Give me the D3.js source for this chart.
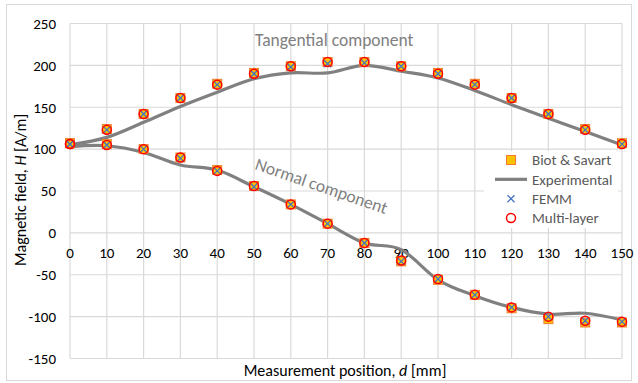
<!DOCTYPE html>
<html>
<head>
<meta charset="utf-8">
<script src="https://cdn.jsdelivr.net/npm/d3@7"></script>
<style>
  body { margin: 0; background: #fff; }
  svg text { font-family: Carlito, Lato, "Open Sans", sans-serif; }
</style>
</head>
<body>
<svg id="chart" width="638" height="383"></svg>
<script>
// measurement positions d [mm]
const positions = [0, 10, 20, 30, 40, 50, 60, 70, 80, 90, 100, 110, 120, 130, 140, 150];

// tangential component
const tanBiot = [107, 124, 142, 161, 178, 191, 199, 204, 204, 199, 191, 178, 161, 142, 124, 107];
const tanFemm = [106, 123, 142, 161, 177, 190, 198, 202, 203, 199, 190, 177, 161, 142, 123, 106];
const tanMulti = [106, 123, 142, 161, 177, 190, 199, 204, 204, 199, 190, 177, 161, 142, 123, 106];
const tanExp = [105, 114, 132, 151, 168, 184, 191, 191, 200, 193, 185, 170, 153, 137, 121, 105];

// normal component
const norBiot = [107, 106, 100, 90, 75, 56, 34, 11, -12, -34, -56, -74, -90, -103, -107, -107];
const norFemm = [106, 105, 100, 89, 74, 55, 34, 11, -12, -34, -55, -74, -89, -100, -105, -106];
const norMulti = [106, 105, 100, 90, 74, 56, 34, 11, -12, -33, -55, -74, -89, -100, -105, -106];
const norExp = [103, 104, 96, 81, 75, 55, 34, 11, -12, -20, -56, -75, -89, -97, -96, -104];

const xTicks = d3.range(0, 151, 10);
const yTicks = [-150, -100, -50, 0, 50, 100, 150, 200, 250];
const legendNames = ["Biot & Savart", "Experimental", "FEMM", "Multi-layer"];

const svg = d3.select("#chart");
const x = d3.scaleLinear().domain([0, 150]).range([70, 622]);
const y = d3.scaleLinear().domain([-150, 250]).range([358.5, 23.5]);

// outer chart border
svg.append("rect").attr("x", 6.5).attr("y", 4.5).attr("width", 625).attr("height", 376)
  .attr("fill", "#fff").attr("stroke", "#d9d9d9");

// gridlines
svg.append("g").selectAll("line").data(xTicks).enter().append("line")
  .attr("x1", d => x(d)).attr("x2", d => x(d))
  .attr("y1", y(250)).attr("y2", y(-150))
  .attr("stroke", "#d9d9d9").attr("stroke-width", 1.2);
svg.append("g").selectAll("line").data(yTicks).enter().append("line")
  .attr("x1", x(0)).attr("x2", x(150))
  .attr("y1", d => y(d)).attr("y2", d => y(d))
  .attr("stroke", "#d9d9d9").attr("stroke-width", 1.2);

// tick labels
svg.append("g").selectAll("text").data(yTicks).enter().append("text")
  .attr("x", 56).attr("y", d => y(d)).attr("dy", "0.35em")
  .attr("text-anchor", "end").attr("font-size", 15).attr("fill", "#000")
  .text(d => d);
svg.append("g").selectAll("text").data(xTicks).enter().append("text")
  .attr("x", d => x(d)).attr("y", y(0) + 20).attr("dy", "0.35em")
  .attr("text-anchor", "middle").attr("font-size", 15).attr("fill", "#000")
  .text(d => d);

// axis titles
const yTitle = svg.append("text").attr("transform", "translate(26,190) rotate(-90)")
  .attr("text-anchor", "middle").attr("font-size", 16).attr("fill", "#000");
yTitle.append("tspan").text("Magnetic field, ");
yTitle.append("tspan").attr("font-style", "italic").text("H");
yTitle.append("tspan").text(" [A/m]");

const xTitle = svg.append("text").attr("x", 345).attr("y", 376)
  .attr("text-anchor", "middle").attr("font-size", 16).attr("fill", "#000");
xTitle.append("tspan").text("Measurement position, ");
xTitle.append("tspan").attr("font-style", "italic").text("d");
xTitle.append("tspan").text(" [mm]");

// experimental curves (smoothed like Excel)
const line = d3.line().x((d, i) => x(positions[i])).y(d => y(d)).curve(d3.curveCardinal.tension(0));
[tanExp, norExp].forEach(s => {
  svg.append("path").datum(s).attr("d", line)
    .attr("fill", "none").attr("stroke", "#808080").attr("stroke-width", 3.2);
});

// markers
function squares(s) {
  svg.append("g").selectAll("rect").data(s).enter().append("rect")
    .attr("x", (d, i) => x(positions[i]) - 4.5).attr("y", d => y(d) - 4.5)
    .attr("width", 9).attr("height", 9)
    .attr("fill", "#ffc000").attr("stroke", "#ed7d31").attr("stroke-width", 1);
}
function crosses(s) {
  svg.append("g").selectAll("path").data(s).enter().append("path")
    .attr("d", (d, i) => {
      const cx = x(positions[i]), cy = y(d), r = 3.5;
      return `M${cx - r},${cy - r}L${cx + r},${cy + r}M${cx - r},${cy + r}L${cx + r},${cy - r}`;
    })
    .attr("stroke", "#4472c4").attr("stroke-width", 1.3).attr("fill", "none");
}
function circles(s) {
  svg.append("g").selectAll("circle").data(s).enter().append("circle")
    .attr("cx", (d, i) => x(positions[i])).attr("cy", d => y(d)).attr("r", 4.5)
    .attr("fill", "none").attr("stroke", "#ff0000").attr("stroke-width", 1.5);
}
squares(tanBiot); squares(norBiot);
crosses(tanFemm); crosses(norFemm);
circles(tanMulti); circles(norMulti);

// annotations
svg.append("text").attr("x", 255).attr("y", 46).attr("font-size", 17.5).attr("fill", "#808080")
  .text("Tangential component");
svg.append("text").attr("transform", "translate(254,169) rotate(19)")
  .attr("font-size", 17.5).attr("fill", "#808080")
  .text("Normal component");

// legend
const lg = svg.append("g");
lg.append("rect").attr("x", 484).attr("y", 151).attr("width", 134).attr("height", 77).attr("fill", "#fff");
const ly = d3.scalePoint().domain(legendNames).range([160, 218]);
const lx = 511;
lg.append("rect").attr("x", lx - 4.5).attr("y", ly(legendNames[0]) - 4.5).attr("width", 9).attr("height", 9)
  .attr("fill", "#ffc000").attr("stroke", "#ed7d31");
lg.append("line").attr("x1", 495).attr("x2", 527).attr("y1", ly(legendNames[1])).attr("y2", ly(legendNames[1]))
  .attr("stroke", "#808080").attr("stroke-width", 3.2);
lg.append("path").attr("d", `M${lx - 3.5},${ly(legendNames[2]) - 3.5}l7,7M${lx - 3.5},${ly(legendNames[2]) + 3.5}l7,-7`)
  .attr("stroke", "#4472c4").attr("stroke-width", 1.3);
lg.append("circle").attr("cx", lx).attr("cy", ly(legendNames[3])).attr("r", 4.5)
  .attr("fill", "none").attr("stroke", "#ff0000").attr("stroke-width", 1.5);
lg.selectAll("text").data(legendNames).enter().append("text")
  .attr("x", 532).attr("y", d => ly(d)).attr("dy", "0.35em")
  .attr("font-size", 15).attr("fill", "#595959")
  .text(d => d);
</script>
</body>
</html>
